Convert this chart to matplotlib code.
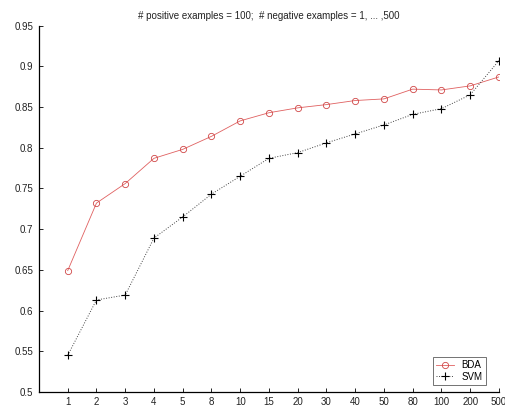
import numpy as np
import matplotlib
matplotlib.use('Agg')
import matplotlib.pyplot as plt

plt.rcParams['font.family'] = ['Liberation Sans', 'DejaVu Sans']

# number of negative examples (x tick labels)
neg_labels = ['1', '2', '3', '4', '5', '8', '10', '15', '20', '30',
              '40', '50', '80', '100', '200', '500']

# accuracy
bda = [0.649, 0.732, 0.756, 0.787, 0.798, 0.814, 0.833, 0.843,
       0.849, 0.853, 0.858, 0.860, 0.872, 0.871, 0.876, 0.887]
svm = [0.545, 0.613, 0.619, 0.689, 0.715, 0.743, 0.765, 0.787,
       0.794, 0.806, 0.817, 0.828, 0.841, 0.848, 0.865, 0.907]

x = np.arange(1, len(neg_labels) + 1)

fig = plt.figure(figsize=(5.06, 4.07), dpi=100)
ax = fig.add_axes([0.077, 0.037, 0.909, 0.9])

ax.plot(x, bda, color='#e06060', linestyle='-', linewidth=0.6,
        marker='o', markersize=4.5, markerfacecolor='none',
        markeredgecolor='#d04848', markeredgewidth=0.6, label='BDA')
ax.plot(x, svm, color='#444444', linestyle=':', linewidth=0.7,
        marker='+', markersize=5.5, markeredgecolor='black',
        markeredgewidth=0.8, label='SVM')

ax.set_xlim(0, 16)
ax.set_ylim(0.5, 0.95)
ax.set_xticks(x)
ax.set_xticklabels(neg_labels)
ax.set_yticks(np.arange(0.5, 0.951, 0.05))
ax.set_yticklabels(['0.5', '0.55', '0.6', '0.65', '0.7', '0.75',
                    '0.8', '0.85', '0.9', '0.95'])
ax.tick_params(direction='in', length=3, width=0.7, labelsize=7,
               colors='#222222', pad=4)

for side in ['top', 'right']:
    ax.spines[side].set_visible(False)
for side in ['left', 'bottom']:
    ax.spines[side].set_linewidth(0.9)

ax.set_title('# positive examples = 100;  # negative examples = 1, ... ,500',
             fontsize=7, color='#222222', pad=5)

leg = ax.legend(loc='lower right', fontsize=7, frameon=True, fancybox=False,
                handlelength=1.8, borderpad=0.35, labelspacing=0.15,
                bbox_to_anchor=(0.982, 0.005))
leg.get_frame().set_edgecolor('#333333')
leg.get_frame().set_linewidth(0.6)

fig.savefig('out.png', dpi=100)
